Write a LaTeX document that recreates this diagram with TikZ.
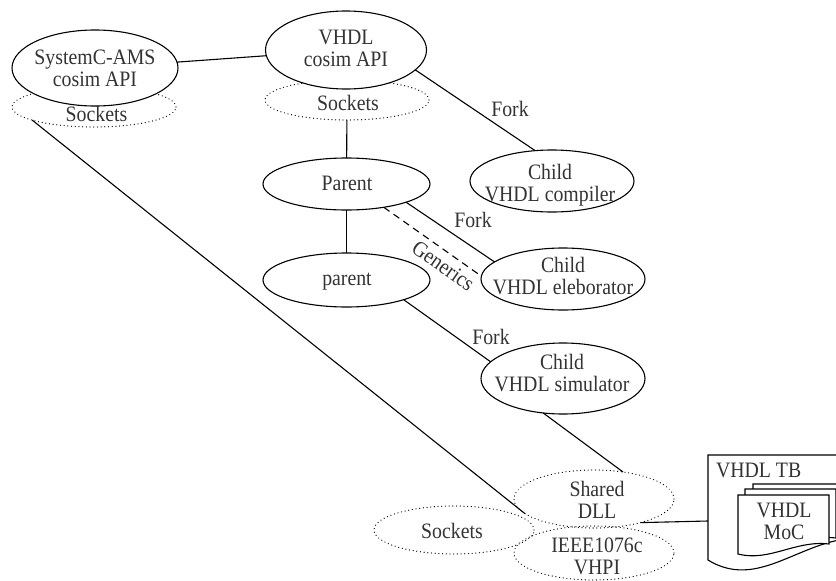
\documentclass[tikz,border=0pt]{standalone}
\usepackage{fontspec}
\setmainfont{Liberation Serif}[FakeStretch=0.9]
\usetikzlibrary{shapes.geometric}
\begin{document}
\begin{tikzpicture}[x=1pt,y=-1pt,
  every node/.style={inner sep=0pt, outer sep=0pt},
  solidoval/.style={ellipse, draw, fill=white, line width=1.1pt},
  dotoval/.style={ellipse, draw, line width=1.2pt, dash pattern=on 0.1pt off 3.6pt, line cap=round},
  plain/.style={align=center, font=\fontsize{22}{22}\selectfont, text=black!80},
  txt/.style={plain, execute at begin node=\strut, execute at end node=\strut},
  link/.style={line width=1.1pt},
]
\useasboundingbox (0,0) rectangle (836,581);

% dotted socket / library layers (drawn first, partly hidden)
\node[dotoval, minimum width=164pt, minimum height=40pt] (scs) at (94,107) {};
\node[dotoval, minimum width=164pt, minimum height=40pt] (vhs) at (347,100) {};
\node[dotoval, minimum width=160pt, minimum height=48pt] (sk3) at (454,530) {};
\node[dotoval, minimum width=160pt, minimum height=54pt] (vhpi) at (594,553) {};
\node[dotoval, minimum width=160pt, minimum height=58pt] (dll) at (594,499) {};

% process ellipses
\node[solidoval, minimum width=166pt, minimum height=76pt] (sc) at (95,68) {};
\node[solidoval, minimum width=161pt, minimum height=78pt] (vh) at (346,50) {};
\node[solidoval, minimum width=167pt, minimum height=52pt] (par) at (346.5,184) {};
\node[solidoval, minimum width=167pt, minimum height=54pt] (par2) at (346.5,280) {};
\node[solidoval, minimum width=164pt, minimum height=62pt] (comp) at (552,181) {};
\node[solidoval, minimum width=164pt, minimum height=62pt] (elab) at (563,279) {};
\node[solidoval, minimum width=164pt, minimum height=71pt] (sim) at (563,378.5) {};

% texts
\node[txt] (sct) at (95,71.4) {SystemC-AMS\\cosim API};
\node[txt] (scst) at (96.5,117.4) {Sockets};
\node[txt] (vht) at (346,51.4) {VHDL\\cosim API};
\node[txt] (vhst) at (348,106.4) {Sockets};
\node[txt] (part) at (347,186) {Parent};
\node[txt] (par2t) at (347,280.7) {parent};
\node[txt] (compt) at (550,186.4) {Child\\VHDL compiler};
\node[txt] (elabt) at (563,279.4) {Child\\VHDL eleborator};
\node[txt] (simt) at (562,376.4) {Child\\VHDL simulator};
\node[txt] (dllt) at (597,503) {Shared\\DLL};
\node[txt] (sk3t) at (452,534.4) {Sockets};
\node[txt] (vhpit) at (597,559.4) {IEEE1076c\\VHPI};

% fork labels
\node[txt] (fork1) at (510,112) {Fork};
\node[txt] (fork2) at (473,223) {Fork};
\node[txt] (fork3) at (491,340) {Fork};

% connectors
\draw[link] (sc) -- (vh);
\draw[link] (vhs) -- (par);
\draw[link] (par) -- (par2);
\draw[link] (vh.-16.2) -- (comp.119);
\draw[link] (par.-17.2) -- (elab.166);
\draw[link, dashed, dash pattern=on 7pt off 5pt] (par.-32.7) --
  node[plain, sloped, below, pos=0.69, inner sep=6pt] (gen) {Generics} (elab.178);
\draw[link] (par2.-19.8) -- (sim.167);
\draw[link] (sim.-120.6) -- (dll.43);
\draw[link] (scs.192) -- (dll.192.5);

% VHDL test bench document with stacked MoC pages
\begin{scope}
\clip (0,0) rectangle (836,581);
\draw[link, fill=white] (708,455) -- (880,455) -- (880,540)
  .. controls (810,525) and (765,595) .. (708,560) -- cycle;
\foreach \dx/\dy in {15/-11, 7/-6, 0/0} {
  \draw[link, fill=white, shift={(\dx,\dy)}] (738,495) -- (829,495) -- (829,544)
    .. controls (795,540) and (770,562) .. (738,554) -- cycle;
}
\end{scope}
\node[txt, anchor=base west] (tbt) at (716,477) {VHDL TB};
\node[txt] (moct) at (784,524.4) {VHDL\\MoC};
\coordinate (tbport) at (708,521);
\draw[link] (dll.-27) -- (tbport);
\end{tikzpicture}
\end{document}
